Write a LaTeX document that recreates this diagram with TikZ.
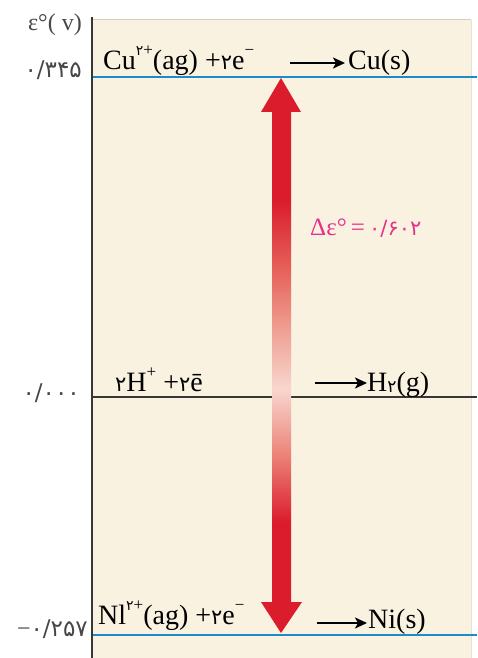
\documentclass[tikz,border=0pt]{standalone}
\usepackage{fontspec}
\setmainfont{Liberation Serif}
\newfontfamily\fa[Script=Arabic]{DejaVu Sans}
\usetikzlibrary{arrows.meta,calc}
\definecolor{panel}{RGB}{249,242,225}
\definecolor{paneledge}{RGB}{215,205,185}
\definecolor{lvlblue}{RGB}{28,140,200}
\definecolor{lvlblack}{RGB}{55,55,55}
\definecolor{arrred}{RGB}{218,28,45}
\definecolor{fadeA}{RGB}{236,130,120}
\definecolor{fadeB}{RGB}{248,214,206}
\definecolor{fadeC}{RGB}{238,152,140}
\definecolor{fadeD}{RGB}{230,100,92}
\definecolor{dmag}{RGB}{230,50,140}
\pgfdeclareverticalshading{redfade}{100bp}{color(0bp)=(arrred); color(25bp)=(arrred); color(35bp)=(arrred); color(41bp)=(fadeA); color(47bp)=(fadeB); color(53bp)=(fadeC); color(57.5bp)=(fadeD); color(64bp)=(arrred); color(75bp)=(arrred); color(100bp)=(arrred)}
\newcommand\pd[1]{{\fa\fontsize{21}{21}\selectfont #1}}
\newcommand\ps[1]{{\fa\fontsize{14}{14}\selectfont #1}}
\newcommand\pmid[1]{{\fa\fontsize{17}{17}\selectfont #1}}
\newcommand\pl[1]{{\fa\fontsize{23}{23}\selectfont #1}}
\newcommand\supx[1]{\raisebox{0.5em}{\fontsize{17}{17}\selectfont #1}}
\newcommand\subx[1]{\raisebox{-0.05em}{\fontsize{17}{17}\selectfont #1}}
\tikzset{
  rxtext/.style={inner sep=0pt, font=\fontsize{28}{30}\selectfont, text=black},
  axlabel/.style={inner sep=0pt, font=\fontsize{24}{26}\selectfont, text=black!72},
  bluelvl/.style={draw=lvlblue, line width=2.8pt},
  blacklvl/.style={draw=lvlblack, line width=2pt},
  rxn/.style={line width=2.2pt, -{Stealth[length=12pt,width=11pt,inset=3pt]}},
  dlabel/.style={inner sep=0pt, font=\fontsize{25}{27}\selectfont, text=dmag}
}
\begin{document}
\begin{tikzpicture}[x=1pt,y=-1pt]
\useasboundingbox (0,0) rectangle (477,658);
\fill[white] (0,0) rectangle (477,658);
% panel
\fill[panel] (92,20) rectangle (471,658);
\draw[paneledge, line width=1pt] (92,20) -- (471,20);
\draw[paneledge!60, line width=1pt] (471,20) -- (471,658);
% axis
\coordinate (axT) at (92,17);
\coordinate (axB) at (92,658);
\draw[lvlblack, line width=2pt] (axT) -- (axB);
% levels
\coordinate (cuL) at (93,77);  \coordinate (cuR) at (477,77);
\coordinate (hL) at (93,397);  \coordinate (hR) at (477,397);
\coordinate (niL) at (93,635); \coordinate (niR) at (477,635);
\draw[bluelvl] (cuL) -- (cuR);
\draw[blacklvl] (hL) -- (hR);
\draw[bluelvl] (niL) -- (niR);
% axis labels
\node[axlabel, anchor=base east] (eps) at (82,31) {ε°( v)};
\node[axlabel, anchor=east] (vcu) at (82,70) {\pl{۰/۳۴۵}};
\node[axlabel, anchor=east] (vh) at (80,393) {\pl{۰/۰۰۰}};
\node[axlabel, anchor=east] (vni) at (88,629) {−\pl{۰/۲۵۷}};
% reactions
\node[rxtext, anchor=base west] (cuA) at (103,70) {Cu\supx{\ps{۲}+}(ag) +\pd{۲}e\supx{−}};
\coordinate (cuS) at (290,63); \coordinate (cuE) at (345,63);
\draw[rxn] (cuS) -- (cuE);
\node[rxtext, anchor=base west] (cuB) at (348,70) {Cu(s)};
\node[rxtext, anchor=base west] (hA) at (115,391) {\pd{۲}H\supx{+} +\pd{۲}ē};
\coordinate (hS) at (315,383); \coordinate (hE) at (367,383);
\draw[rxn] (hS) -- (hE);
\node[rxtext, anchor=base west] (hB) at (367,391) {H\subx{\pmid{۲}}(g)};
\node[rxtext, anchor=base west] (niA) at (98,624) {Nl\supx{\ps{۲}+}(ag) +\pd{۲}e\supx{−}};
\coordinate (niS) at (317,623); \coordinate (niE) at (367,623);
\draw[rxn] (niS) -- (niE);
\node[rxtext, anchor=base west] (niB) at (368,628) {Ni(s)};
% double arrow
\coordinate (top) at (281,78);
\coordinate (bot) at (281,633);
\shade[shading=redfade] (top) -- ++(20,34) -- ++(-10,0) -- ($(bot)+(10,-31)$) -- ++(11,0) -- (bot) -- ++(-20,-31) -- ++(11,0) -- ($(top)+(-9,34)$) -- ++(-11,0) -- cycle;
\node[dlabel, anchor=west] (dl) at (310,228) {Δε°\,=\,\pd{۰/۶۰۲}};
\end{tikzpicture}
\end{document}
